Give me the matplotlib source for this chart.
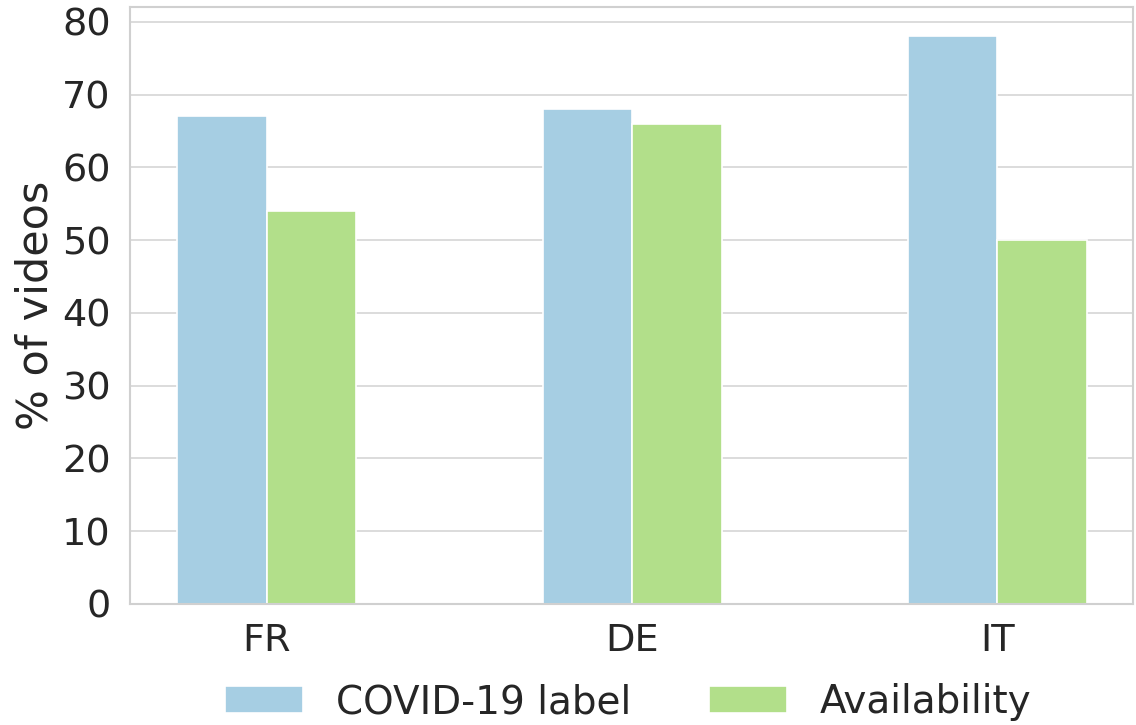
import numpy as np
import matplotlib
matplotlib.use('Agg')
import matplotlib.pyplot as plt
import seaborn as sns

# data
countries = ['FR', 'DE', 'IT']
covid_label = [67, 68, 78]
availability = [54, 66, 50]

sns.set_theme(style='whitegrid')
plt.rcParams['font.family'] = ['DejaVu Sans']

fig = plt.figure(figsize=(11.36, 7.25), dpi=100)
ax = fig.add_axes([0.1144, 0.1669, 0.8826, 0.8231])

x = np.arange(len(countries))
w = 0.245
ax.bar(x - w / 2, covid_label, width=w, color='#a6cee3', edgecolor='white',
       linewidth=1.2, label='COVID-19 label', zorder=2)
ax.bar(x + w / 2, availability, width=w, color='#b2df8a', edgecolor='white',
       linewidth=1.2, label='Availability', zorder=2)

ax.set_xticks(x)
ax.set_xticklabels(countries)
ax.set_xlim(-0.375, 2.37)
ax.set_ylim(0, 82)
ax.set_yticks(range(0, 81, 10))
ax.xaxis.grid(False)
ax.yaxis.grid(True, color='#d9d9d9', linewidth=1.3)
ax.tick_params(axis='both', labelsize=27.5, colors='#262626', pad=8)
ax.set_ylabel('% of videos', fontsize=31, color='#262626', labelpad=4)
for s in ax.spines.values():
    s.set_color('#d0d0d0')
    s.set_linewidth(1.5)

ax.legend(loc='center', bbox_to_anchor=(0.497, -0.165), ncol=2,
          frameon=False, fontsize=28, handlelength=2.0, handleheight=0.7,
          columnspacing=2.0, handletextpad=0.85)

fig.savefig('out.png', dpi=100)
